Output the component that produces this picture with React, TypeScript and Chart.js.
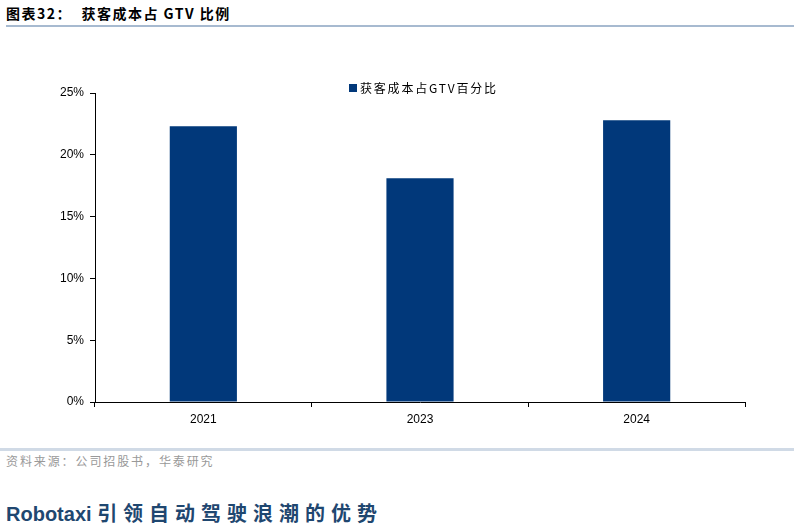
import React, { useEffect, useRef } from "react";
import { Chart, registerables } from "chart.js";

Chart.register(...registerables);

const years: string[] = ["2021", "2023", "2024"];
const acquisitionCostShare: number[] = [22.3, 18.1, 22.8];
const yTicks: number[] = [0, 5, 10, 15, 20, 25];
const seriesLabel = "获客成本占GTV百分比";
const titleText = "图表32：  获客成本占 GTV 比例";
const sourceText = "资料来源：公司招股书，华泰研究";

const BAR_COLOR = "#01387A";
const LATIN = "Arial, 'Liberation Sans', Helvetica, sans-serif";
const CJK = "'Noto Sans CJK SC', 'Liberation Sans', sans-serif";

export default function App() {
  const canvasRef = useRef<HTMLCanvasElement | null>(null);

  useEffect(() => {
    const prevMargin = document.body.style.margin;
    document.body.style.margin = "0";
    const canvas = canvasRef.current;
    if (!canvas) return;
    const chart = new Chart(canvas, {
      type: "bar",
      data: {
        labels: years,
        datasets: [
          {
            label: seriesLabel,
            data: acquisitionCostShare,
            backgroundColor: BAR_COLOR,
            borderWidth: 0,
            categoryPercentage: 1,
            barPercentage: 0.31,
          },
        ],
      },
      options: {
        animation: false,
        responsive: true,
        maintainAspectRatio: false,
        layout: { padding: { left: 0, right: 55, top: 53, bottom: 0 } },
        plugins: {
          legend: { display: false },
          tooltip: { enabled: false },
          title: { display: false },
        },
        scales: {
          x: {
            type: "category",
            offset: true,
            grid: {
              display: true,
              offset: true,
              drawOnChartArea: false,
              drawTicks: true,
              tickLength: 5,
              color: "#000",
              lineWidth: 1,
            },
            border: { display: true, color: "#000", width: 1 },
            ticks: {
              color: "#000",
              padding: 5,
              font: { family: LATIN, size: 12 },
              maxRotation: 0,
            },
            afterFit: (scale: any) => {
              scale.height = 38;
            },
          },
          y: {
            min: 0,
            max: 25,
            afterBuildTicks: (scale: any) => {
              scale.ticks = yTicks.map((v) => ({ value: v }));
            },
            grid: {
              display: true,
              drawOnChartArea: false,
              drawTicks: true,
              tickLength: 5,
              color: "#000",
              lineWidth: 1,
            },
            border: { display: true, color: "#000", width: 1 },
            ticks: {
              color: "#000",
              padding: 6,
              font: { family: LATIN, size: 12 },
              callback: (v: any) => `${v}%`,
            },
            afterFit: (scale: any) => {
              scale.width = 95;
            },
          },
        },
      },
    });
    return () => {
      chart.destroy();
      document.body.style.margin = prevMargin;
    };
  }, []);

  return (
    <div
      style={{
        position: "fixed",
        left: 0,
        top: 0,
        width: 800,
        height: 529,
        background: "#fff",
        overflow: "hidden",
      }}
    >
      <div
        style={{
          position: "absolute",
          left: 6,
          top: 4,
          fontFamily: CJK,
          fontWeight: 700,
          fontSize: 14,
          letterSpacing: 1.5,
          color: "#000",
          whiteSpace: "pre",
          lineHeight: "18px",
        }}
      >
        {titleText}
      </div>
      <div
        style={{
          position: "absolute",
          left: 6,
          top: 25,
          width: 788,
          height: 2,
          background: "#a7bad0",
        }}
      />
      <div
        style={{
          position: "absolute",
          left: 0,
          top: 40,
          width: 800,
          height: 400,
        }}
      >
        <canvas ref={canvasRef} />
      </div>
      <div
        style={{
          position: "absolute",
          left: 349,
          top: 80,
          display: "flex",
          alignItems: "center",
          fontFamily: CJK,
          fontSize: 12,
          color: "#000",
          lineHeight: "16px",
        }}
      >
        <span
          style={{
            display: "inline-block",
            width: 8,
            height: 8,
            background: BAR_COLOR,
            marginRight: 3,
          }}
        />
        <span style={{ letterSpacing: 1.8 }}>{seriesLabel}</span>
      </div>
      <div
        style={{
          position: "absolute",
          left: 0,
          top: 448,
          width: 794,
          height: 3,
          background: "#d0dae6",
        }}
      />
      <div
        style={{
          position: "absolute",
          left: 6,
          top: 453,
          fontFamily: CJK,
          fontSize: 12,
          letterSpacing: 1.9,
          color: "#999",
          lineHeight: "16px",
        }}
      >
        {sourceText}
      </div>
      <div
        style={{
          position: "absolute",
          left: 6,
          top: 500,
          color: "#1f4770",
          fontWeight: 700,
          lineHeight: "26px",
          whiteSpace: "pre",
        }}
      >
        <span style={{ fontFamily: LATIN, fontSize: 20 }}>Robotaxi </span>
        <span style={{ fontFamily: CJK, fontSize: 20, letterSpacing: 6 }}>
          引领自动驾驶浪潮的优势
        </span>
      </div>
    </div>
  );
}
